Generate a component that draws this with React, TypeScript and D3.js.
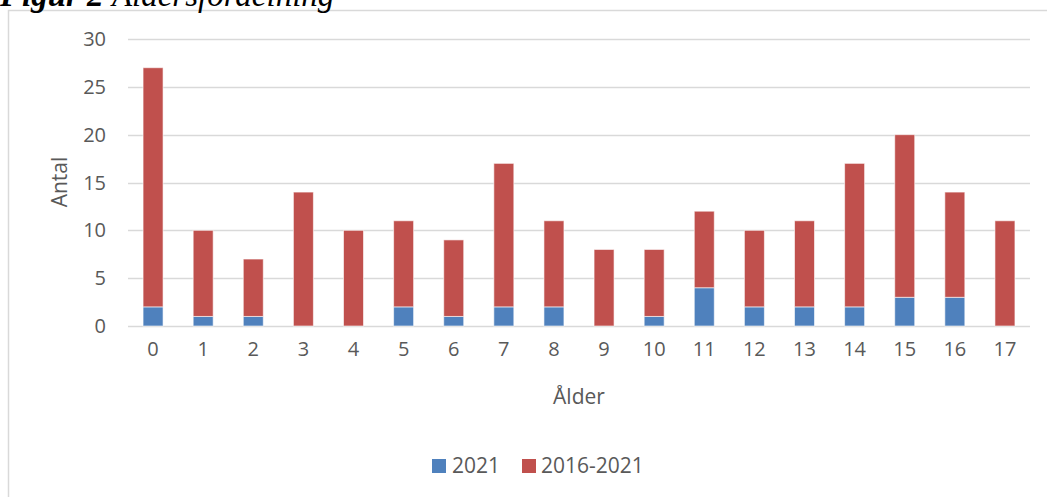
import React from "react";
import * as d3 from "d3";

const ages = ["0","1","2","3","4","5","6","7","8","9","10","11","12","13","14","15","16","17"];
// Count for 2021 (bottom segment)
const year2021 = [2,1,1,0,0,2,1,2,2,0,1,4,2,2,2,3,3,0];
// Remaining count for 2016-2021 stacked on top
const period = [25,9,6,14,10,9,8,15,9,8,7,8,8,9,15,17,11,11];
const yTicks = [0,5,10,15,20,25,30];
const seriesNames = ["2021", "2016-2021"];
const colors = ["#4f81bd", "#c0504d"];

const W = 1047, H = 497;
const plot = { left: 128, right: 1030, top: 39, bottom: 326 };
const font = "'Open Sans', sans-serif";
const textColor = "#595959";

export default function App() {
  const x = d3.scaleBand().domain(ages).range([plot.left, plot.right]).paddingInner(0.6).paddingOuter(0.3);
  const y = d3.scaleLinear().domain([0, 30]).range([plot.bottom, plot.top]);
  const rows = ages.map((a, i) => ({ age: a, s0: year2021[i], s1: period[i] }));
  const stacked = d3.stack<any>().keys(["s0", "s1"])(rows);
  const bw = 20;

  return (
    <svg width={W} height={H} style={{ position: "absolute", left: 0, top: 0, background: "#fff" }}>
      <rect x={8.5} y={10.5} width={W + 10} height={H + 10} fill="#fff" stroke="#d9d9d9" strokeWidth={1.5} />
      <text x={0} y={6} fontFamily="'Liberation Serif', serif" fontStyle="italic" fontSize={33} fill="#000">
        <tspan fontWeight="bold">Figur 2</tspan> Åldersfördelning
      </text>
      {yTicks.map(t => (
        <g key={t}>
          <line x1={plot.left} x2={plot.right} y1={Math.round(y(t)) + 0.5} y2={Math.round(y(t)) + 0.5} stroke="#d9d9d9" strokeWidth={1.3} />
          <text x={106} y={y(t) + 7} textAnchor="end" fontFamily={font} fontSize={20} fill={textColor}>{t}</text>
        </g>
      ))}
      {stacked.map((layer, si) => (
        <g key={si}>
          {layer.map((d, i) => {
            const cx = (x(ages[i]) as number) + x.bandwidth() / 2;
            const h = y(d[0]) - y(d[1]);
            if (h <= 0) return null;
            return <rect key={i} x={cx - bw / 2} y={y(d[1])} width={bw} height={h} fill={colors[si]} stroke="#ffffff" strokeOpacity={0.6} strokeWidth={1} />;
          })}
        </g>
      ))}
      {ages.map(a => (
        <text key={a} x={(x(a) as number) + x.bandwidth() / 2} y={356} textAnchor="middle" fontFamily={font} fontSize={20} fill={textColor}>{a}</text>
      ))}
      <text x={579} y={404} textAnchor="middle" fontFamily={font} fontSize={21} fill={textColor}>Ålder</text>
      <text transform={`translate(67,182) rotate(-90)`} textAnchor="middle" fontFamily={font} fontSize={21} fill={textColor}>Antal</text>
      <g>
        <rect x={432} y={459} width={14} height={14} fill={colors[0]} />
        <text x={452} y={473} fontFamily={font} fontSize={21} fill={textColor}>{seriesNames[0]}</text>
        <rect x={522} y={459} width={14} height={14} fill={colors[1]} />
        <text x={541} y={473} fontFamily={font} fontSize={21} fill={textColor}>{seriesNames[1]}</text>
      </g>
    </svg>
  );
}
